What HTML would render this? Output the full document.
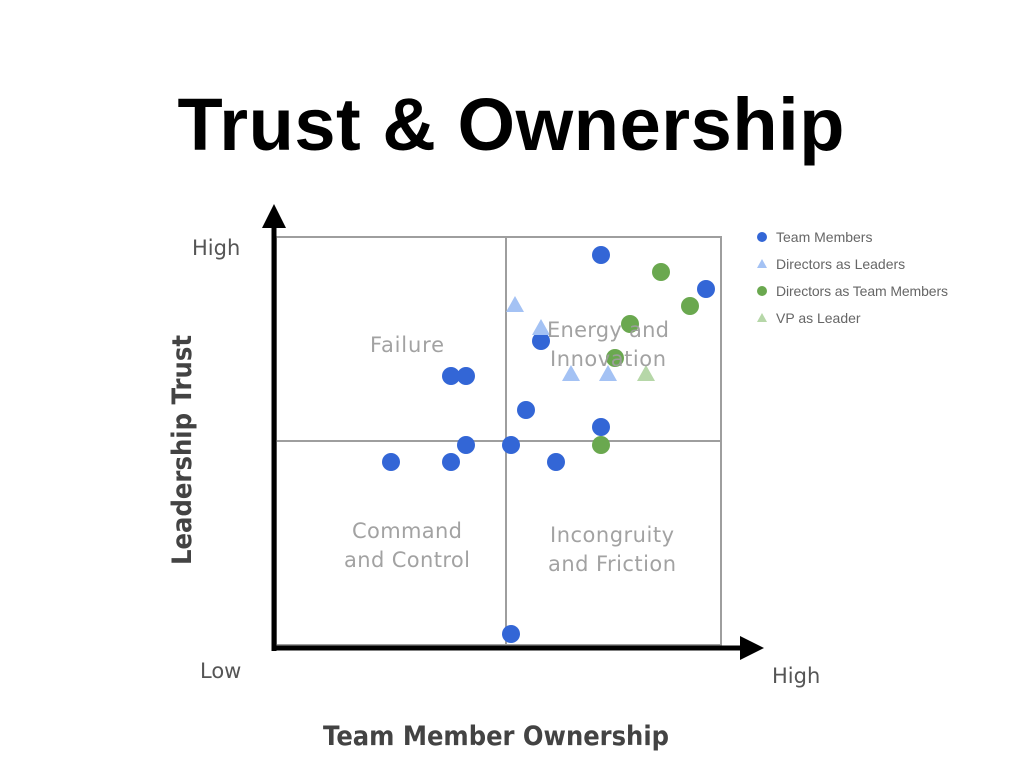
<!DOCTYPE html>
<html><head><meta charset="utf-8"><style>
body{margin:0;width:1024px;height:768px;background:#fff;overflow:hidden}
svg{display:block}
</style></head><body>
<svg width="1024" height="768" viewBox="0 0 1024 768" font-family="'DejaVu Sans','Liberation Sans',sans-serif">
<text x="511" y="150" text-anchor="middle" font-size="74" font-weight="bold" fill="#000" font-family="'Liberation Sans',sans-serif" textLength="667">Trust &amp; Ownership</text>
<g stroke="#9e9e9e" stroke-width="2" fill="none">
<rect x="276" y="237" width="445" height="408"/>
<line x1="506" y1="237" x2="506" y2="645"/>
<line x1="276" y1="441" x2="721" y2="441"/>
</g>
<g fill="#3366d6">
<circle cx="601" cy="255" r="9"/><circle cx="706" cy="289" r="9"/><circle cx="541" cy="341" r="9"/>
<circle cx="451" cy="376" r="9"/><circle cx="466" cy="376" r="9"/><circle cx="526" cy="410" r="9"/>
<circle cx="601" cy="427" r="9"/><circle cx="466" cy="445" r="9"/><circle cx="511" cy="445" r="9"/>
<circle cx="391" cy="462" r="9"/><circle cx="451" cy="462" r="9"/><circle cx="556" cy="462" r="9"/>
<circle cx="511" cy="634" r="9"/>
</g>
<g fill="#6aa84f">
<circle cx="661" cy="272" r="9"/><circle cx="690" cy="306" r="9"/><circle cx="630" cy="324" r="9"/>
<circle cx="615" cy="358" r="9"/><circle cx="601" cy="445" r="9"/>
</g>
<g fill="#a4c2f4">
<polygon points="515,296 506,312 524,312"/><polygon points="541,319 532,335 550,335"/>
<polygon points="571,365 562,381 580,381"/><polygon points="608,365 599,381 617,381"/>
</g>
<polygon points="646,365 637,381 655,381" fill="#b6d7a8"/>
<g fill="#9e9e9e" font-size="21" text-anchor="middle" opacity="0.95">
<text x="407" y="352" textLength="74">Failure</text>
<text x="608" y="337" textLength="122">Energy and</text><text x="608" y="366" textLength="116">Innovation</text>
<text x="407" y="538" textLength="110">Command</text><text x="407" y="567" textLength="126">and Control</text>
<text x="612" y="542" textLength="124">Incongruity</text><text x="612" y="571" textLength="128">and Friction</text>
</g>
<line x1="274" y1="226" x2="274" y2="651" stroke="#000" stroke-width="5"/>
<polygon points="274,204 262,228 286,228" fill="#000"/>
<line x1="272" y1="648" x2="742" y2="648" stroke="#000" stroke-width="5"/>
<polygon points="764,648 740,636 740,660" fill="#000"/>
<g fill="#555" font-size="21">
<text x="192" y="255">High</text>
<text x="200" y="678">Low</text>
<text x="772" y="683">High</text>
</g>
<text x="496" y="745" text-anchor="middle" font-size="27" font-weight="bold" fill="#434343" textLength="346" lengthAdjust="spacingAndGlyphs">Team Member Ownership</text>
<text transform="translate(191,450) rotate(-90)" text-anchor="middle" font-size="27" font-weight="bold" fill="#434343" textLength="230" lengthAdjust="spacingAndGlyphs">Leadership Trust</text>
<g font-size="14" fill="#666" font-family="'Liberation Sans',sans-serif">
<circle cx="762" cy="237" r="5" fill="#3366d6"/><text x="776" y="242">Team Members</text>
<polygon points="762,259 757,268 767,268" fill="#a4c2f4"/><text x="776" y="269">Directors as Leaders</text>
<circle cx="762" cy="291" r="5" fill="#6aa84f"/><text x="776" y="296" textLength="172">Directors as Team Members</text>
<polygon points="762,313 757,322 767,322" fill="#b6d7a8"/><text x="776" y="323">VP as Leader</text>
</g>
</svg>
</body></html>
